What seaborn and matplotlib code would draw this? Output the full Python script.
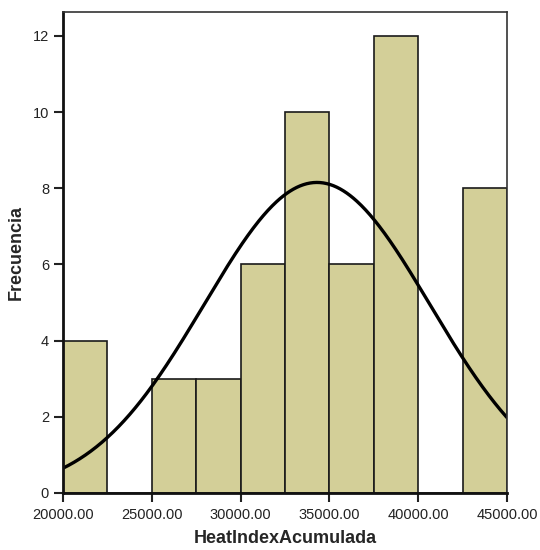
import numpy as np
import pandas as pd
import matplotlib
matplotlib.use("Agg")
import matplotlib.pyplot as plt
import seaborn as sns

# Data
bin_edges = [20000, 22500, 25000, 27500, 30000, 32500, 35000, 37500, 40000, 42500, 45000]
counts = [4, 0, 3, 3, 6, 10, 6, 12, 0, 8]
curve_mean = 34300.0
curve_sd = 6360.0
x_ticks = [20000, 25000, 30000, 35000, 40000, 45000]
y_ticks = [0, 2, 4, 6, 8, 10, 12]

sns.set_style("white")
plt.rcParams['font.family'] = ['Liberation Sans', 'DejaVu Sans']

fig = plt.figure(figsize=(5.4, 5.5), dpi=100)
ax = fig.add_axes([63/540, 57/550, 444/540, 481/550])

centers = [(a + b) / 2 for a, b in zip(bin_edges[:-1], bin_edges[1:])]
df = pd.DataFrame({"x": centers, "w": counts})
sns.histplot(data=df, x="x", weights="w", bins=bin_edges, ax=ax,
             color="#D3CF98", alpha=1.0, edgecolor="#1a1a1a", linewidth=1.2)

n = sum(counts)
bw = bin_edges[1] - bin_edges[0]
xs = np.linspace(bin_edges[0], bin_edges[-1], 400)
ys = n * bw / (curve_sd * np.sqrt(2 * np.pi)) * np.exp(-0.5 * ((xs - curve_mean) / curve_sd) ** 2)
sns.lineplot(x=xs, y=ys, ax=ax, color="black", linewidth=2.4)

ax.set_xlim(20000, 45000)
ax.set_ylim(0, 12.63)
ax.set_xticks(x_ticks)
ax.set_xticklabels([f"{v:.2f}" for v in x_ticks], fontsize=10.5)
ax.set_yticks(y_ticks)
ax.set_yticklabels([str(v) for v in y_ticks], fontsize=10.5)
ax.tick_params(axis='both', direction='out', length=6.5, width=1.5, color='#222222',
               bottom=True, left=True, labelcolor='#222222')
ax.tick_params(axis='x', pad=4)
ax.set_xlabel("HeatIndexAcumulada", fontsize=13, fontweight='bold', labelpad=6)
ax.set_ylabel("Frecuencia", fontsize=13, fontweight='bold', labelpad=6)
for side in ['left', 'bottom']:
    ax.spines[side].set_linewidth(2.0)
    ax.spines[side].set_color('#111111')
for side in ['top', 'right']:
    ax.spines[side].set_linewidth(1.2)
    ax.spines[side].set_color('#333333')

fig.savefig("out.png", dpi=100)
